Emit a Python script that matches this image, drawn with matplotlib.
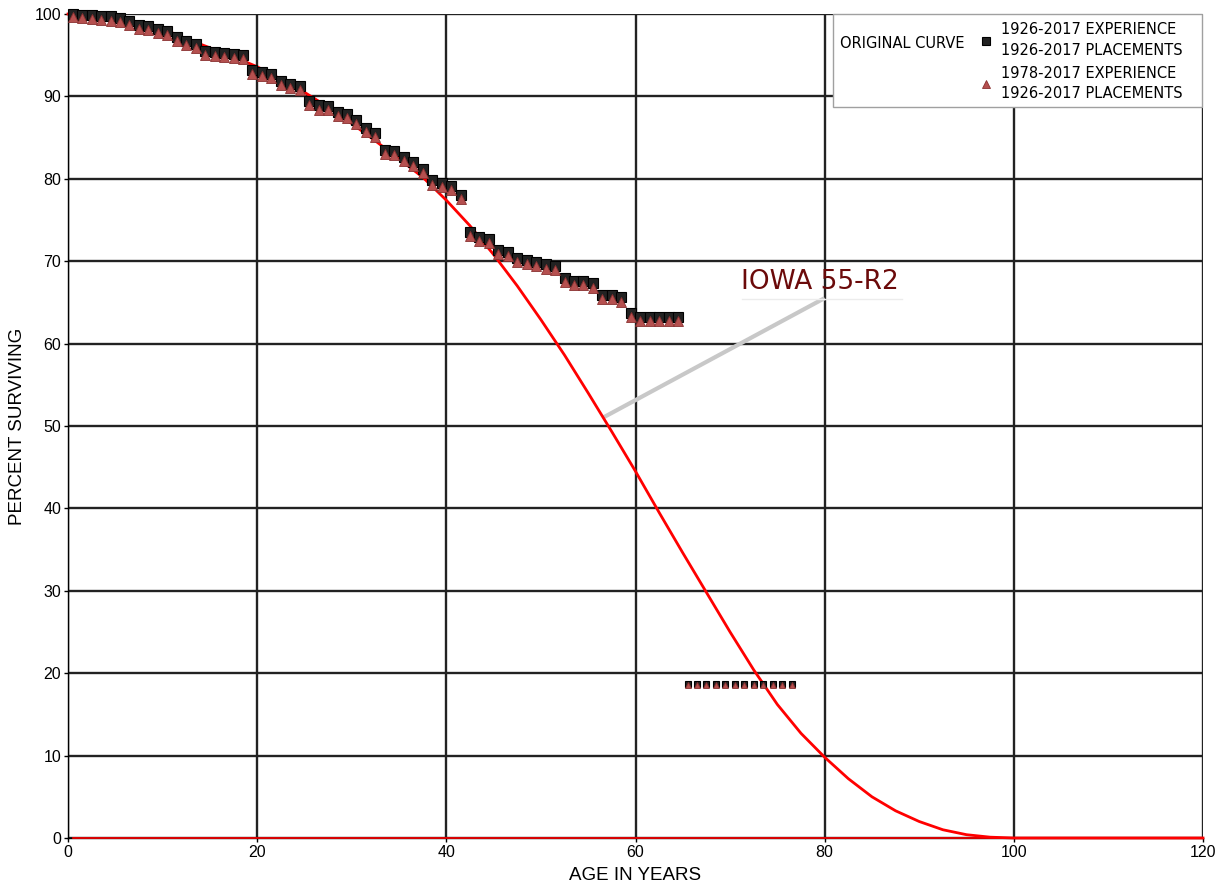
import matplotlib
matplotlib.use('Agg')
import matplotlib.pyplot as plt
from matplotlib.lines import Line2D
from matplotlib.patches import Rectangle

# Iowa 55-R2 curve, every 2.5 years
curve_age = [0, 2.5, 5, 7.5, 10, 12.5, 15, 17.5, 20, 22.5, 25, 27.5, 30, 32.5, 35,
             37.5, 40, 42.5, 45, 47.5, 50, 52.5, 55, 57.5, 60, 62.5, 65, 67.5, 70,
             72.5, 75, 77.5, 80, 82.5, 85, 87.5, 90, 92.5, 95, 97.5, 100, 120]
curve_pct = [100.0, 99.9, 99.5, 99.0, 98.2, 97.0, 95.9, 94.8, 93.6, 92.1, 90.5, 88.7,
             86.7, 84.6, 82.4, 80.2, 77.4, 74.3, 70.8, 67.0, 62.9, 58.6, 54.0, 49.3,
             44.5, 39.5, 34.6, 29.8, 25.0, 20.4, 16.2, 12.7, 9.8, 7.2, 5.0, 3.3, 2.0,
             1.0, 0.4, 0.1, 0.0, 0.0]
base_age = [0.5, 120]
base_pct = [0, 0]

# observed points, 1926-2017 experience (squares)
obs_age = [0.5, 1.5, 2.5, 3.5, 4.5, 5.5, 6.5, 7.5, 8.5, 9.5, 10.5, 11.5, 12.5, 13.5,
           14.5, 15.5, 16.5, 17.5, 18.5, 19.5, 20.5, 21.5, 22.5, 23.5, 24.5, 25.5,
           26.5, 27.5, 28.5, 29.5, 30.5, 31.5, 32.5, 33.5, 34.5, 35.5, 36.5, 37.5,
           38.5, 39.5, 40.5, 41.5, 42.5, 43.5, 44.5, 45.5, 46.5, 47.5, 48.5, 49.5,
           50.5, 51.5, 52.5, 53.5, 54.5, 55.5, 56.5, 57.5, 58.5, 59.5, 60.5, 61.5,
           62.5, 63.5, 64.5]
sq_pct = [100.0, 99.9, 99.9, 99.8, 99.7, 99.5, 99.2, 98.7, 98.5, 98.2, 97.9, 97.2,
          96.7, 96.4, 95.5, 95.4, 95.3, 95.1, 95.0, 93.2, 93.0, 92.7, 91.9, 91.5,
          91.3, 89.4, 88.9, 88.8, 88.1, 87.9, 87.1, 86.2, 85.6, 83.5, 83.4, 82.6,
          82.0, 81.2, 79.8, 79.5, 79.1, 78.0, 73.5, 72.9, 72.7, 71.4, 71.1, 70.4,
          70.2, 69.9, 69.6, 69.4, 68.0, 67.6, 67.6, 67.3, 65.9, 65.9, 65.6, 63.7,
          63.2, 63.2, 63.2, 63.2, 63.2]
# 1978-2017 experience (triangles)
tri_pct = [99.6, 99.5, 99.4, 99.3, 99.2, 99.0, 98.7, 98.2, 98.0, 97.7, 97.4, 96.7,
           96.2, 95.9, 95.0, 94.9, 94.8, 94.6, 94.5, 92.7, 92.5, 92.2, 91.4, 91.0,
           90.8, 88.9, 88.4, 88.3, 87.6, 87.4, 86.6, 85.7, 85.1, 83.0, 82.9, 82.1,
           81.5, 80.7, 79.3, 79.0, 78.6, 77.5, 73.0, 72.4, 72.2, 70.9, 70.6, 69.9,
           69.7, 69.4, 69.1, 68.9, 67.5, 67.1, 67.1, 66.8, 65.4, 65.4, 65.1, 63.2,
           62.7, 62.7, 62.7, 62.7, 62.7]

# tail group (both series, smaller markers)
tail_age = [65.5, 66.5, 67.5, 68.5, 69.5, 70.5, 71.5, 72.5, 73.5, 74.5, 75.5, 76.5]
tail_sq = [18.7] * 12
tail_tri = [18.6] * 12

x_ticks = [0, 20, 40, 60, 80, 100, 120]
y_ticks = [0, 10, 20, 30, 40, 50, 60, 70, 80, 90, 100]

plt.rcParams['font.family'] = ['Liberation Sans', 'DejaVu Sans']

fig = plt.figure(figsize=(12.28, 8.86), dpi=100)
ax = fig.add_axes([68 / 1228, 1 - 838 / 886, (1203 - 68) / 1228, (838 - 14) / 886])

ax.set_xlim(0, 120)
ax.set_ylim(0, 100)
ax.set_xticks(x_ticks)
ax.set_yticks(y_ticks)
ax.grid(True, color='#222222', linewidth=1.7)
ax.set_axisbelow(True)
for s in ['top', 'right']:
    ax.spines[s].set_visible(False)
for s in ['left', 'bottom']:
    ax.spines[s].set_linewidth(1.0)
ax.tick_params(length=3, width=1, labelsize=11.5, pad=2)

ax.plot(curve_age, curve_pct, color='red', linewidth=2, zorder=3, clip_on=False)
ax.plot(base_age, base_pct, color='red', linewidth=1.2, zorder=3, clip_on=False)

sq_style = dict(linestyle='none', marker='s', markerfacecolor='#222222',
                markeredgecolor='#000000', markeredgewidth=0.8)
tri_style = dict(linestyle='none', marker='^', markerfacecolor='#b5504f',
                 markeredgecolor='#8a3030', markeredgewidth=0.6)

ax.plot(obs_age, sq_pct, markersize=7.3, zorder=4, clip_on=False, **sq_style)
ax.plot(obs_age, tri_pct, markersize=7.3, zorder=5, clip_on=False, **tri_style)
ax.plot(tail_age, tail_sq, markersize=5.0, zorder=4, **sq_style)
ax.plot(tail_age, tail_tri, markersize=5.0, zorder=5, **tri_style)

# curve label with leader line
ax.plot([56.7, 79.8], [51.1, 65.4], color='#c8c8c8', linewidth=3, zorder=2.5)
ax.plot([71.3, 88.2], [65.4, 65.4], color='#ececec', linewidth=1, zorder=2.5)
ax.text(71.2, 67.5, 'IOWA 55-R2', color='#6b0a0a', fontsize=19,
        family='DejaVu Sans', va='center', ha='left', zorder=6)

ax.set_xlabel('AGE IN YEARS', fontsize=13.5, labelpad=5)
ax.set_ylabel('PERCENT SURVIVING', fontsize=13.5, labelpad=6)

# legend box
fig.patches.append(Rectangle((833 / 1228, 1 - 107 / 886), (1202 - 833) / 1228, 93 / 886,
                             transform=fig.transFigure, facecolor='white',
                             edgecolor='#a0a0a0', linewidth=1, zorder=10))
fig.text(840 / 1228, 1 - 43 / 886, 'ORIGINAL CURVE', fontsize=10.5,
         family='DejaVu Sans', va='center', ha='left', zorder=11)
handles = [Line2D([], [], markersize=6, **sq_style),
           Line2D([], [], markersize=6, **tri_style)]
labels = ['1926-2017 EXPERIENCE\n1926-2017 PLACEMENTS',
          '1978-2017 EXPERIENCE\n1926-2017 PLACEMENTS']
leg = fig.legend(handles, labels, loc='upper left',
                 bbox_to_anchor=(970 / 1228, 1 - 12 / 886), frameon=False,
                 prop={'family': 'DejaVu Sans', 'size': 10.5},
                 handlelength=0.8, handletextpad=0.6, labelspacing=0.55,
                 borderpad=0.2)
for t in leg.get_texts():
    t.set_linespacing(1.45)
leg.set_zorder(12)

plt.savefig('out.png', dpi=100)
plt.close()
